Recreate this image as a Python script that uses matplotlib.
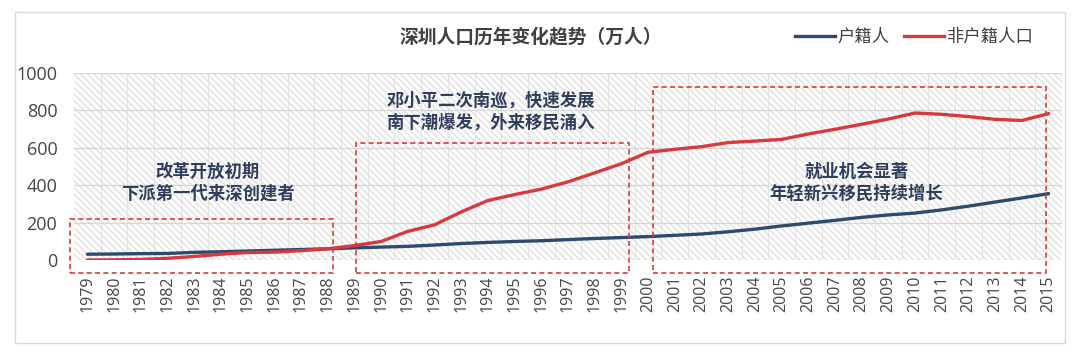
import matplotlib
matplotlib.use("Agg")
import matplotlib.pyplot as plt
from matplotlib.patches import Rectangle
from matplotlib.lines import Line2D

plt.rcParams['font.family'] = ['Noto Sans CJK SC', 'DejaVu Sans']

years = list(range(1979, 2016))
hukou = [31, 32, 34, 35, 41, 44, 48, 52, 56, 60, 65, 69, 73, 80, 88, 94, 99, 103,
         109, 115, 120, 125, 132, 139, 151, 165, 182, 197, 212, 228, 241, 251, 268,
         288, 310, 332, 355]
feihukou = [0, 1, 3, 9, 19, 31, 40, 42, 50, 60, 77, 99, 153, 188, 257, 318, 350, 379,
            418, 466, 515, 576, 592, 606, 628, 636, 645, 674, 699, 726, 754, 786, 779,
            767, 752, 746, 783]
series_names = ['户籍人', '非户籍人口']
title = '深圳人口历年变化趋势（万人）'
yticks = [0, 200, 400, 600, 800, 1000]

# annotation boxes: (x0, x1, y0, y1) in data units, and their texts
boxes = [(1978.36, 1988.2, -70, 220), (1989.07, 1999.3, -70, 624), (2000.2, 2014.9, -70, 925)]
notes = [('改革开放初期\n下派第一代来深创建者', 1983.5, 414),
         ('邓小平二次南巡，快速发展\n南下潮爆发，外来移民涌入', 1994.1, 796),
         ('就业机会显著\n年轻新兴移民持续增长', 2007.8, 414)]

navy = '#2E4A6E'
red = '#D8393C'
txtnavy = '#2F3E5A'

fig = plt.figure(figsize=(10.8, 3.56), dpi=100)
# outer border
fig.patches.append(Rectangle((15/1080, 1-343/356), 1050/1080, 331/356, transform=fig.transFigure,
                             fill=False, edgecolor='#d9d9d9', lw=1.0, zorder=0))

ax = fig.add_axes([74/1080, 1-260/356, (1062-74)/1080, (260-73)/356])
ax.set_xlim(1978.5, 2015.5)
ax.set_ylim(0, 1000)
for s in ax.spines.values():
    s.set_visible(False)

plt.rcParams['hatch.linewidth'] = 1.0
bg = Rectangle((0, 0), 1, 1, transform=ax.transAxes, facecolor='white', edgecolor='#e0e0e0',
               lw=0, hatch='\\\\\\\\\\', zorder=0)
ax.add_patch(bg)

ax.set_yticks(yticks)
ax.set_yticklabels([str(v) for v in yticks], family='Open Sans', fontsize=13, color='#454545')
ax.set_xticks(years)
ax.set_xticklabels([str(y) for y in years], rotation=90, family='Open Sans', fontsize=11.5,
                   color='#454545')
ax.set_xticks([y + 0.5 for y in years[:-1]], minor=True)
ax.tick_params(axis='y', length=0, pad=12)
ax.tick_params(axis='x', which='both', length=0, pad=11)
ax.grid(axis='y', which='major', color='#d6d6d6', lw=0.9, zorder=1)
ax.grid(axis='x', which='minor', color='#e3e3e3', lw=0.8, zorder=1)
ax.set_axisbelow(True)

ax.plot(years, hukou, color=navy, lw=2.4, zorder=3, solid_capstyle='round')
ax.plot(years, feihukou, color=red, lw=2.4, zorder=3, solid_capstyle='round')

for (x0, x1, y0, y1) in boxes:
    ax.add_patch(Rectangle((x0, y0), x1 - x0, y1 - y0, fill=False, edgecolor=red, lw=1.2,
                           linestyle=(0, (3, 2)), clip_on=False, zorder=4))

for (t, x, y) in notes:
    ax.text(x, y, t, ha='center', va='center', fontsize=12.5, fontweight='heavy', color=txtnavy,
            linespacing=1.3, zorder=5)

fig.text(531/1080, 1-37/356, title, ha='center', va='center', fontsize=13.5, fontweight='bold',
         color='#404040')

handles = [Line2D([], [], color=navy, lw=2.4), Line2D([], [], color=red, lw=2.4)]
fig.legend(handles, series_names, loc='center', bbox_to_anchor=(914/1080, 1-37/356), ncol=2,
           frameon=False, fontsize=12.5, handlelength=2.3, handletextpad=0.15, columnspacing=0.8,
           labelcolor='#404040')

fig.savefig('out.png', dpi=100)
